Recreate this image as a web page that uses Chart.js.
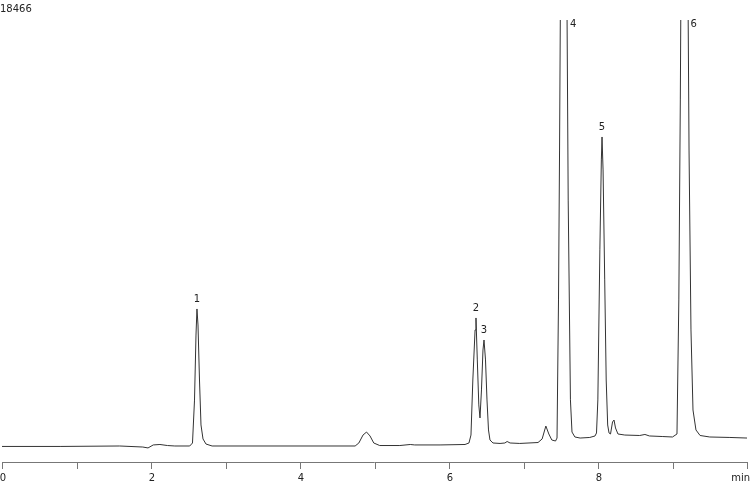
<!DOCTYPE html>
<html>
<head>
<meta charset="utf-8">
<script src="https://cdn.jsdelivr.net/npm/chart.js@4/dist/chart.umd.min.js"></script>
<style>
  html, body { margin: 0; padding: 0; background: #fff; }
  #wrap { width: 750px; height: 485px; position: relative; }
</style>
</head>
<body>
<div id="wrap"><canvas id="chrom"></canvas></div>
<script>
// retention time (min) and detector signal
const times = [
  0.00, 0.78, 1.58, 1.89, 1.96, 2.03, 2.12, 2.22, 2.32, 2.52,
  2.557, 2.584, 2.604, 2.617, 2.631, 2.651, 2.671, 2.698, 2.738, 2.82,
  4.00, 4.74, 4.79, 4.846, 4.893, 4.94, 4.99, 5.07, 5.34, 5.48,
  5.54, 5.88, 6.215, 6.268, 6.295, 6.32, 6.35, 6.362, 6.38, 6.40,
  6.416, 6.436, 6.456, 6.47, 6.49, 6.51, 6.53, 6.55, 6.59, 6.685,
  6.75, 6.78, 6.82, 6.95, 7.195, 7.25, 7.30, 7.34, 7.38, 7.43,
  7.45, 7.47, 7.484, 7.503, 7.544, 7.575, 7.60, 7.63, 7.651, 7.69,
  7.76, 7.89, 7.96, 7.98, 7.998, 8.025, 8.045, 8.054, 8.068, 8.09,
  8.11, 8.13, 8.148, 8.168, 8.195, 8.215, 8.235, 8.268, 8.36, 8.56,
  8.63, 8.69, 8.87, 9.00, 9.06, 9.085, 9.105, 9.12, 9.161, 9.20,
  9.222, 9.248, 9.275, 9.315, 9.37, 9.50, 9.77, 10.00
];
const signal = [
  -20, -20, 0, -45, -85, 45, 65, 20, 0, 0,
  130, 1990, 4810, 5940, 5245, 2860, 910, 305, 85, 0,
  0, 0, 130, 475, 605, 435, 130, 20, 20, 65,
  45, 45, 65, 130, 475, 2860, 5030, 5550, 3730, 1780,
  1215, 2430, 4160, 4595, 3730, 1995, 695, 260, 130, 110,
  130, 195, 130, 110, 150, 305, 865, 520, 260, 215,
  345, 6330, 12830, 23670, 32300, 23670, 10660, 2000, 605, 390,
  345, 370, 435, 565, 1995, 8500, 12400, 13395, 11965, 7200,
  2860, 910, 565, 520, 1040, 1125, 780, 520, 475, 455,
  500, 435, 410, 390, 520, 6330, 15000, 23670, 36670, 23670,
  12830, 5030, 1560, 695, 455, 390, 370, 345
];

// named peaks: retention time and apex signal
const peakNames = ['1', '2', '3', '4', '5', '6'];
const peakTimes = [2.617, 6.362, 6.47, 7.544, 8.054, 9.161];
const peakHeights = [5940, 5550, 4595, 32300, 13395, 36670];

const xTicks = [0, 1, 2, 3, 4, 5, 6, 7, 8, 9, 10];
const xTickLabels = ['0', '', '2', '', '4', '', '6', '', '8', '', 'min'];
const yMax = 18466;
const yMin = -694;

const FONT = "10px 'DejaVu Sans', sans-serif";

const overlay = {
  id: 'overlay',
  afterDraw(chart) {
    const ctx = chart.ctx;
    const area = chart.chartArea;
    const x = chart.scales.x;
    const y = chart.scales.y;
    ctx.save();

    // time axis
    ctx.strokeStyle = '#777';
    ctx.lineWidth = 1;
    ctx.beginPath();
    ctx.moveTo(x.getPixelForValue(0), area.bottom + 0.5);
    ctx.lineTo(x.getPixelForValue(10), area.bottom + 0.5);
    xTicks.forEach(t => {
      const px = Math.round(x.getPixelForValue(t)) + 0.5;
      ctx.moveTo(px, area.bottom);
      ctx.lineTo(px, area.bottom + 7);
    });
    ctx.stroke();

    ctx.fillStyle = '#222';
    ctx.font = FONT;
    ctx.textBaseline = 'middle';
    xTicks.forEach((t, i) => {
      if (!xTickLabels[i]) return;
      // last label would run off the canvas, so it ends at the edge
      const last = i === xTicks.length - 1;
      ctx.textAlign = last ? 'right' : 'center';
      ctx.fillText(xTickLabels[i], last ? chart.width : x.getPixelForValue(t) + 1, area.bottom + 16);
    });

    // full-scale value
    ctx.textAlign = 'left';
    ctx.fillText(String(yMax), 0, 9);

    // peak numbers
    peakNames.forEach((name, i) => {
      const px = x.getPixelForValue(peakTimes[i]);
      const py = y.getPixelForValue(peakHeights[i]);
      if (py < area.top) {
        ctx.textAlign = 'left';
        ctx.fillText(name, px + 6, area.top + 4);
      } else {
        ctx.textAlign = 'center';
        ctx.fillText(name, px, py - 10);
      }
    });
    ctx.restore();
  }
};

new Chart(document.getElementById('chrom'), {
  type: 'line',
  data: {
    datasets: [{
      data: times.map((t, i) => ({ x: t, y: signal[i] })),
      borderColor: '#333',
      borderWidth: 1,
      pointRadius: 0,
      tension: 0,
      fill: false
    }]
  },
  options: {
    responsive: true,
    maintainAspectRatio: false,
    animation: false,
    layout: { padding: { left: 2, right: 3, top: 20, bottom: 23 } },
    plugins: { legend: { display: false }, tooltip: { enabled: false } },
    scales: {
      x: { type: 'linear', min: 0, max: 10, display: false },
      y: { min: yMin, max: yMax, display: false }
    }
  },
  plugins: [overlay]
});
</script>
</body>
</html>
